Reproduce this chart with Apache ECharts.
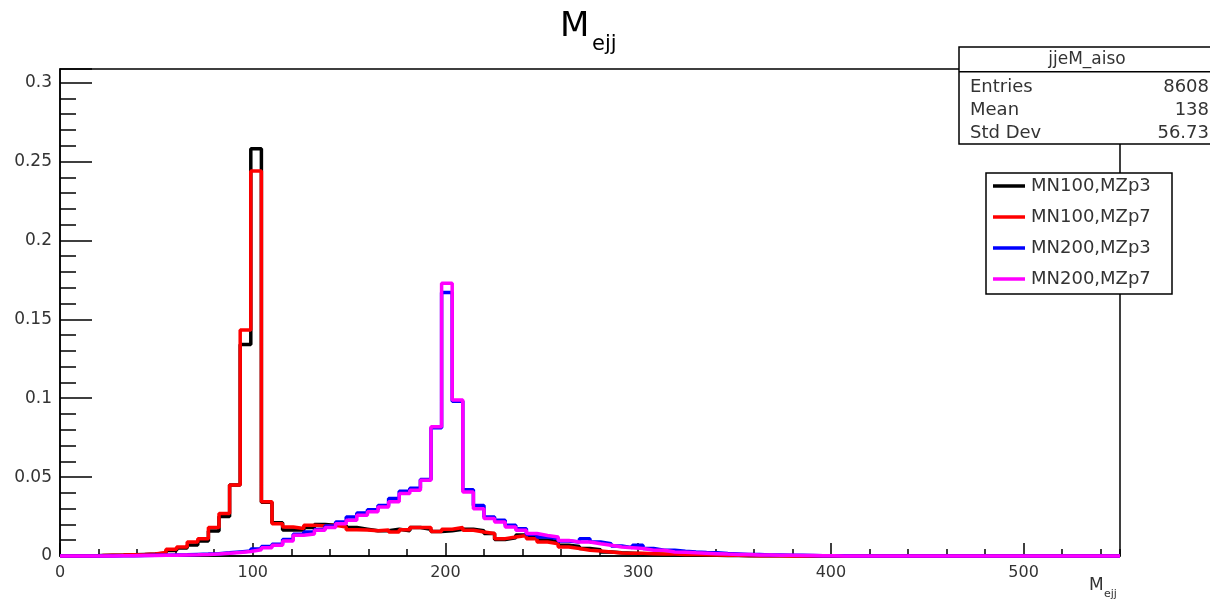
<!DOCTYPE html>
<html>
<head>
<meta charset="utf-8">
<script src="https://cdn.jsdelivr.net/npm/echarts@6/dist/echarts.min.js"></script>
<style>
html,body{margin:0;padding:0;background:#fff;}
#chart{width:1210px;height:602px;}
</style>
</head>
<body>
<div id="chart"></div>
<script>
// ---- data ----
const BIN_WIDTH = 5.5;
const X_MAX = 550;
const seriesNames = ['MN100,MZp3', 'MN100,MZp7', 'MN200,MZp3', 'MN200,MZp7'];
const seriesColors = ['#000000', '#ff0000', '#0000ff', '#ff00ff'];

const mn100_mzp3 = [
  0, 0, 0, 0.0003, 0.0005, 0.0006, 0.0008, 0.001, 0.0012, 0.0018,
  0.0035, 0.005, 0.007, 0.0095, 0.0158, 0.025, 0.045, 0.134, 0.258, 0.034,
  0.021, 0.0165, 0.0165, 0.018, 0.020, 0.0195, 0.0195, 0.018, 0.017, 0.016,
  0.016, 0.017, 0.016, 0.018, 0.017, 0.0155, 0.016, 0.017, 0.017, 0.016,
  0.0142, 0.0105, 0.0115, 0.0133, 0.012, 0.0102, 0.009, 0.0068, 0.006, 0.0047,
  0.004, 0.0026, 0.002, 0.0017, 0.0014, 0.0012, 0.001, 0.0009, 0.0007, 0.0006,
  0.0005, 0.0004, 0.0003, 0.0003, 0.0002, 0.0002, 0.0001, 0.0001, 0.0001, 0,
  0, 0, 0, 0, 0, 0, 0, 0, 0, 0,
  0, 0, 0, 0, 0, 0, 0, 0, 0, 0,
  0, 0, 0, 0, 0, 0, 0, 0, 0, 0
];
const mn100_mzp7 = [
  0, 0, 0.0002, 0.0003, 0.0005, 0.0006, 0.0008, 0.001, 0.0013, 0.0022,
  0.0042, 0.0057, 0.0089, 0.011, 0.018, 0.027, 0.045, 0.1432, 0.2439, 0.0343,
  0.0205, 0.0184, 0.0174, 0.0195, 0.019, 0.0195, 0.0184, 0.0167, 0.0165, 0.016,
  0.0165, 0.0152, 0.0167, 0.018, 0.018, 0.0155, 0.017, 0.018, 0.0163, 0.0152,
  0.0142, 0.011, 0.0121, 0.013, 0.011, 0.0089, 0.0078, 0.0057, 0.0047, 0.0036,
  0.0032, 0.0026, 0.0019, 0.0018, 0.0017, 0.0015, 0.0013, 0.0012, 0.001, 0.0009,
  0.0008, 0.0006, 0.0005, 0.0004, 0.0003, 0.0002, 0.0001, 0.0001, 0, 0,
  0, 0, 0, 0, 0, 0, 0, 0, 0, 0,
  0, 0, 0, 0, 0, 0, 0, 0, 0, 0,
  0, 0, 0, 0, 0, 0, 0, 0, 0, 0
];
const mn200_mzp3 = [
  0, 0, 0, 0, 0, 0.0001, 0.0002, 0.0003, 0.0004, 0.0005,
  0.0007, 0.0008, 0.001, 0.0012, 0.0015, 0.002, 0.0026, 0.0032, 0.0045, 0.006,
  0.0074, 0.0104, 0.0138, 0.0152, 0.0168, 0.019, 0.0215, 0.0247, 0.0272, 0.0293,
  0.032, 0.0365, 0.041, 0.043, 0.0485, 0.0812, 0.1669, 0.098, 0.042, 0.032,
  0.0247, 0.0226, 0.0195, 0.0173, 0.0136, 0.012, 0.011, 0.0095, 0.0089, 0.011,
  0.0089, 0.0078, 0.0063, 0.0053, 0.0068, 0.0047, 0.0036, 0.0036, 0.003, 0.0025,
  0.0022, 0.002, 0.0016, 0.0013, 0.001, 0.0009, 0.0007, 0.0006, 0.0005, 0.0004,
  0.0003, 0.0002, 0.0001, 0.0001, 0, 0, 0, 0, 0, 0,
  0, 0, 0, 0, 0, 0, 0, 0, 0, 0,
  0, 0, 0, 0, 0, 0, 0, 0, 0, 0
];
const mn200_mzp7 = [
  0, 0, 0, 0, 0, 0.0001, 0.0002, 0.0003, 0.0003, 0.0004,
  0.0005, 0.0007, 0.0008, 0.001, 0.0013, 0.0018, 0.0022, 0.0028, 0.004, 0.0053,
  0.0068, 0.0095, 0.0131, 0.014, 0.0163, 0.018, 0.0205, 0.0226, 0.0258, 0.028,
  0.031, 0.0343, 0.0396, 0.0417, 0.048, 0.0819, 0.1728, 0.0988, 0.0406, 0.030,
  0.0237, 0.0216, 0.0184, 0.0163, 0.0142, 0.013, 0.012, 0.0099, 0.0089, 0.0089,
  0.0078, 0.0068, 0.0057, 0.0053, 0.0047, 0.0036, 0.0036, 0.0026, 0.0024, 0.002,
  0.0018, 0.0015, 0.0012, 0.001, 0.0009, 0.0007, 0.0006, 0.0005, 0.0004, 0.0003,
  0.0003, 0.0002, 0.0001, 0, 0, 0, 0, 0, 0, 0,
  0, 0, 0, 0, 0, 0, 0, 0, 0, 0,
  0, 0, 0, 0, 0, 0, 0, 0, 0, 0
];
const seriesValues = [mn100_mzp3, mn100_mzp7, mn200_mzp3, mn200_mzp7];

const yTickLabels = ['0', '0.05', '0.1', '0.15', '0.2', '0.25', '0.3'];
const xTickLabels = ['0', '100', '200', '300', '400', '500'];
const Y_MAX = 0.3086;

const statsTitle = 'jjeM_aiso';
const statsRows = [['Entries', '8608'], ['Mean', '138'], ['Std Dev', '56.73']];

// ---- build ----
const FONT = 'DejaVu Sans';
function toStep(vals) {
  const pts = vals.map((v, i) => [i * BIN_WIDTH, v]);
  pts.push([vals.length * BIN_WIDTH, vals[vals.length - 1]]);
  return pts;
}
function yLabel(v) {
  const k = v / 0.05;
  if (Math.abs(k - Math.round(k)) > 1e-6) return '';
  return yTickLabels[Math.round(k)] || '';
}
function xLabel(v) {
  const k = v / 100;
  if (Math.abs(k - Math.round(k)) > 1e-6) return '';
  return xTickLabels[Math.round(k)] || '';
}

const chart = echarts.init(document.getElementById('chart'), null, {renderer: 'canvas'});
const grid = {left: 60, right: 90, top: 69, bottom: 46, show: true, borderColor: '#000', borderWidth: 1.5, backgroundColor: 'transparent'};

const LEG_X = 986, LEG_Y = 173, LEG_ROW0 = 186, LEG_DY = 31;
const legendGraphics = [
  {type: 'rect', z: 8, shape: {x: LEG_X, y: LEG_Y, width: 186, height: 121}, style: {fill: '#fff', stroke: '#000', lineWidth: 1.5}}
];
seriesNames.forEach((n, i) => {
  const yy = LEG_ROW0 + i * LEG_DY;
  legendGraphics.push({type: 'line', z: 9, shape: {x1: 993, y1: yy, x2: 1025, y2: yy}, style: {stroke: seriesColors[i], lineWidth: 3.5}});
  legendGraphics.push({type: 'text', z: 9, x: 1031, y: yy, style: {text: n, font: '18px "DejaVu Sans"', fill: '#333', align: 'left', verticalAlign: 'middle'}});
});

const option = {
  animation: false,
  backgroundColor: '#fff',
  grid: grid,
  xAxis: [
    {
      type: 'value', min: 0, max: X_MAX, interval: 100, position: 'bottom',
      axisLine: {show: true, onZero: false, lineStyle: {color: '#000', width: 1.5}},
      axisTick: {show: true, inside: true, length: 13, lineStyle: {color: '#000', width: 1.5}},
      axisLabel: {show: true, margin: 9, fontFamily: FONT, fontSize: 16, color: '#333', formatter: xLabel, showMaxLabel: false},
      splitLine: {show: false}
    },
    {
      type: 'value', min: 0, max: X_MAX, interval: 20, position: 'bottom',
      axisLine: {show: false},
      axisTick: {show: true, inside: true, length: 7, lineStyle: {color: '#000', width: 1.5}},
      axisLabel: {show: false},
      splitLine: {show: false}
    }
  ],
  yAxis: [
    {
      type: 'value', min: 0, max: Y_MAX, interval: 0.05, position: 'left',
      axisLine: {show: true, onZero: false, lineStyle: {color: '#000', width: 1.5}},
      axisTick: {show: true, inside: true, length: 32, lineStyle: {color: '#000', width: 1.5}},
      axisLabel: {show: true, margin: 8, fontFamily: FONT, fontSize: 17, color: '#333', formatter: yLabel},
      splitLine: {show: false}
    },
    {
      type: 'value', min: 0, max: Y_MAX, interval: 0.01, position: 'left', offset: 0,
      axisLine: {show: false},
      axisTick: {show: true, inside: true, length: 16, lineStyle: {color: '#000', width: 1.5}},
      axisLabel: {show: false},
      splitLine: {show: false}
    }
  ],
  series: seriesValues.map((vals, i) => ({
    name: seriesNames[i],
    type: 'line',
    step: 'end',
    symbol: 'none',
    clip: false,
    xAxisIndex: 0, yAxisIndex: 0,
    color: seriesColors[i],
    lineStyle: {color: seriesColors[i], width: 3.5},
    data: toStep(vals),
    z: 2 + i
  })),
  graphic: [
    // title
    {type: 'text', left: 560, top: 10, z: 20, style: {text: 'M', font: '34px "DejaVu Sans"', fill: '#000'}},
    {type: 'text', left: 592, top: 34, z: 20, style: {text: 'ejj', font: '21px "DejaVu Sans"', fill: '#000'}},
    // x axis title
    {type: 'text', left: 1089, top: 577, z: 20, style: {text: 'M', font: '17px "DejaVu Sans"', fill: '#333'}},
    {type: 'text', left: 1104, top: 589, z: 20, style: {text: 'ejj', font: '11px "DejaVu Sans"', fill: '#333'}},
    // stats box
    {type: 'rect', z: 8, shape: {x: 959, y: 47, width: 260, height: 97}, style: {fill: '#fff', stroke: '#000', lineWidth: 1.5}},
    {type: 'line', z: 9, shape: {x1: 959, y1: 71.7, x2: 1210, y2: 71.7}, style: {stroke: '#000', lineWidth: 1.5}},
    {type: 'text', z: 9, x: 1087, y: 60, style: {text: statsTitle, font: '17px "DejaVu Sans"', fill: '#333', align: 'center', verticalAlign: 'middle'}},
    ...statsRows.flatMap((r, i) => [
      {type: 'text', z: 9, x: 970, y: 87 + i * 23.3, style: {text: r[0], font: '18px "DejaVu Sans"', fill: '#333', align: 'left', verticalAlign: 'middle'}},
      {type: 'text', z: 9, x: 1209, y: 87 + i * 23.3, style: {text: r[1], font: '18px "DejaVu Sans"', fill: '#333', align: 'right', verticalAlign: 'middle'}}
    ]),
    ...legendGraphics
  ]
};
chart.setOption(option);
</script>
</body>
</html>
